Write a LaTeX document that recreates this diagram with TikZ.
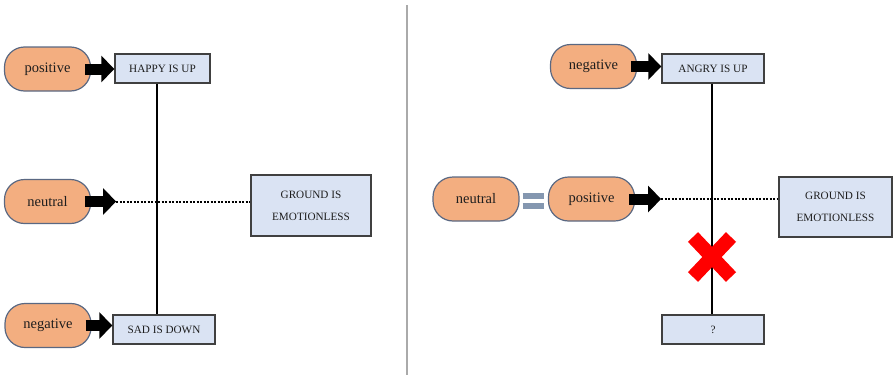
\documentclass[tikz,border=0pt]{standalone}
\usepackage{fontspec}
\setmainfont{Liberation Serif}
\usepackage{xcolor}
\usepackage{tikz}
\usetikzlibrary{arrows.meta}
\definecolor{pillfill}{RGB}{243,174,128}
\definecolor{pilledge}{RGB}{90,104,130}
\definecolor{boxfill}{RGB}{218,227,243}
\definecolor{boxedge}{RGB}{64,64,64}
\definecolor{eqgray}{RGB}{132,151,176}
\definecolor{divgray}{RGB}{170,170,170}
\definecolor{txt}{RGB}{30,30,30}

\begin{document}
\begin{tikzpicture}[x=1pt,y=-1pt,
                    pill/.style={draw=pilledge,fill=pillfill,line width=1.2pt,
                    rounded corners=20pt,
                    minimum width=86pt,minimum height=44pt,
                    inner sep=0pt,text=txt,
                    font=\fontsize{14.5}{16}\selectfont},
                    cbox/.style n args={2}{draw=boxedge,fill=boxfill,line width=1.4pt,
                    minimum width=#1pt,
                    minimum height=#2pt,
                    inner sep=0pt,align=center,text=txt,
                    font=\fontsize{11.2}{22}\selectfont},
                    blkarrow/.style={line width=11pt,-{Triangle[length=13pt,width=26pt]}},
                    stem/.style={line width=2pt},
                    dots/.style={line width=2pt,dash pattern=on 2pt off 1.5pt},
                    eqbar/.style={eqgray,line width=6pt}]
    \useasboundingbox (0,0) rectangle (893,375);

    % left half
    \node[pill](lpos) at (47.5,69) {positive};
    \node[pill](lneu) at (47.5,201.5) {neutral};
    \node[pill](lneg) at (48,325.5) {negative};
    \node[cbox={95}{29}](lhappy) at (162.5,68.5) {HAPPY IS UP};
    \node[cbox={102}{29}](lsad) at (164,329.5) {SAD IS DOWN};
    \node[cbox={120}{61}](lground) at (311,205.5) {GROUND IS\\EMOTIONLESS};
    \draw[stem] ([xshift=-5.5pt]lhappy.south) -- ([xshift=-7pt]lsad.north);
    \draw[blkarrow] ([xshift=-6pt]lpos.east) -- (lpos.east -| lhappy.west);
    \draw[blkarrow] ([xshift=-6pt]lneg.east) -- (lneg.east -| lsad.west);
    \draw[blkarrow] ([xshift=-6pt]lneu.east) -- ++(31,0) coordinate (ltip);
    \draw[dots] (ltip) -- (ltip -| lground.west);

    \draw[divgray,line width=1.5pt] (407,5) -- (407,375);

    % right half
    \node[pill](rneg) at (593.5,66.5) {negative};
    \node[pill](rneu) at (476,199) {neutral};
    \node[pill](rpos) at (591.5,199) {positive};
    \node[cbox={102}{29}](rangry) at (713,68.5) {ANGRY IS UP};
    \node[cbox={102}{29}](rq) at (713,329.5) {?};
    \node[cbox={113}{60}](rground) at (835.5,207) {GROUND IS\\EMOTIONLESS};
    \draw[eqbar] ([xshift=3pt,yshift=3pt]rneu.east) -- ([xshift=-4pt,yshift=3pt]rpos.west);
    \draw[eqbar] ([xshift=3pt,yshift=-6.5pt]rneu.east) -- ([xshift=-4pt,yshift=-6.5pt]rpos.west);
    \draw[stem] ([xshift=-1pt]rangry.south) -- ([xshift=-1pt]rq.north);
    \draw[blkarrow] ([xshift=-6pt]rneg.east) -- (rneg.east -| rangry.west);
    \draw[blkarrow] ([xshift=-6pt]rpos.east) -- ++(32,0) coordinate (rtip);
    \draw[dots] (rtip) -- (rtip -| rground.west);
    \draw[red,line width=14pt] (693,237) -- (731,277)
                               (731,237) -- (693,277);

\end{tikzpicture}
\end{document}
